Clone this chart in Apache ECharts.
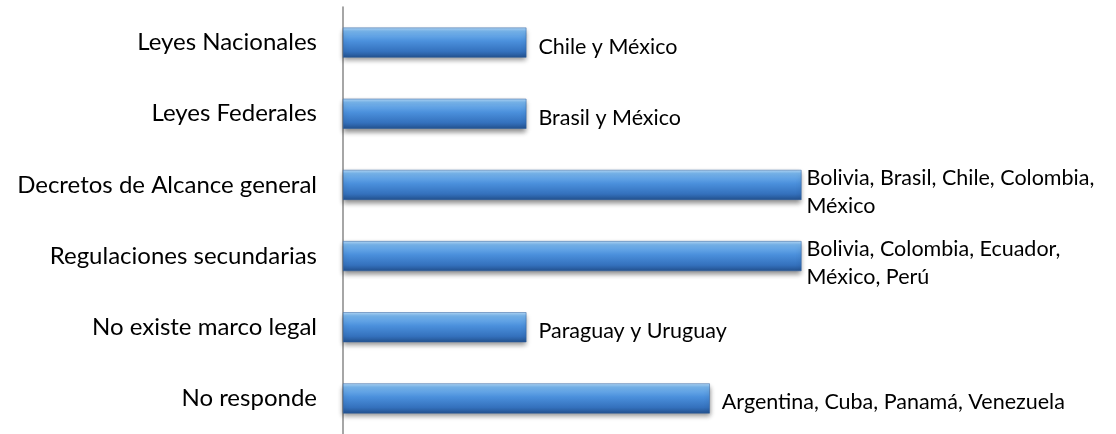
<!DOCTYPE html>
<html><head><meta charset="utf-8">
<script src="https://cdn.jsdelivr.net/npm/echarts@6/dist/echarts.min.js"></script>
<style>html,body{margin:0;padding:0;background:#fff}#c{width:1116px;height:434px}</style>
</head><body><div id="c"></div>
<script>
const categories = ["Leyes Nacionales","Leyes Federales","Decretos de Alcance general","Regulaciones secundarias","No existe marco legal","No responde"];
const values = [2,2,5,5,2,4];
const countryLabels = ["Chile y México","Brasil y México","Bolivia, Brasil, Chile, Colombia,\nMéxico","Bolivia, Colombia, Ecuador,\nMéxico, Perú","Paraguay y Uruguay","Argentina, Cuba, Panamá, Venezuela"];

const font = "Lato, 'Open Sans', sans-serif";
const grad = new echarts.graphic.LinearGradient(0,0,0,1,[
  {offset:0,color:'#b4d9f8'},
  {offset:0.12,color:'#78b6ee'},
  {offset:0.45,color:'#4b90dc'},
  {offset:0.8,color:'#3471bd'},
  {offset:1,color:'#23518e'}
]);
const seriesData = values.map((v,i)=>{
  const twoLine = countryLabels[i].indexOf('\n')>=0;
  return {value:v,label:{distance:twoLine?5:12,offset:[0,twoLine?7:4]}};
});
const chart = echarts.init(document.getElementById('c'));
chart.setOption({
  animation:false,
  grid:{left:343,right:0,top:7,bottom:-5,containLabel:false},
  xAxis:{type:'value',min:0,max:8.43,show:false},
  yAxis:{type:'category',inverse:true,data:categories,
    axisLine:{show:true,lineStyle:{color:'#888',width:1.5}},
    axisTick:{show:false},
    axisLabel:{fontSize:24,fontFamily:font,color:'#000',margin:26}
  },
  series:[{
    type:'bar',data:seriesData,barWidth:30,
    itemStyle:{color:grad,shadowColor:'rgba(0,0,0,0.45)',shadowBlur:5,shadowOffsetY:3,borderColor:'#2d5f9e',borderWidth:0.5},
    label:{show:true,position:'right',fontSize:21.5,fontFamily:font,color:'#000',lineHeight:28,
      formatter:p=>countryLabels[p.dataIndex]}
  }]
});
</script></body></html>
